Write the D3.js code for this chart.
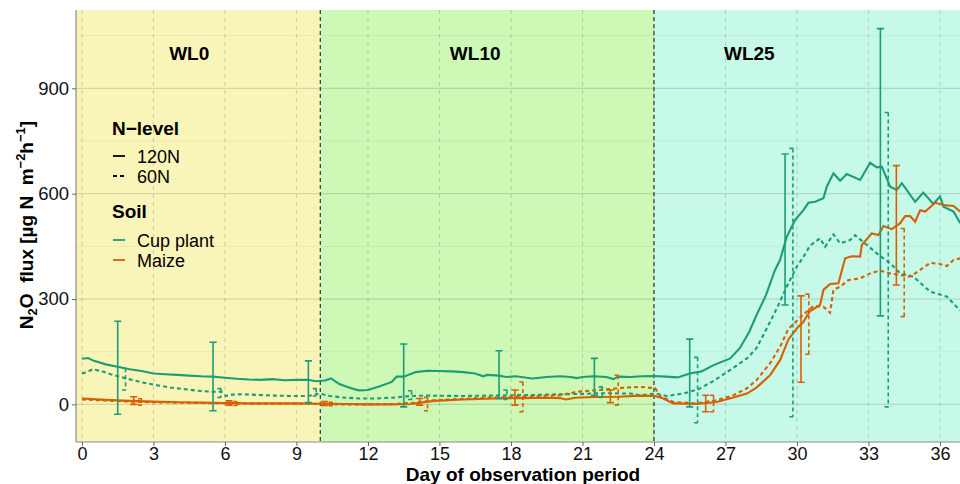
<!DOCTYPE html>
<html>
<head>
<meta charset="utf-8">
<script src="https://cdn.jsdelivr.net/npm/d3@7"></script>
<style>
  body { margin: 0; background: #fff; }
  text { font-family: "Liberation Sans", Arial, sans-serif; white-space: pre; }
</style>
</head>
<body>
<div id="chart"></div>
<script>
// Data: [day, flux]
const cup120 = [
  [0, 130], [0.25, 132], [0.5, 124], [1, 114], [1.5, 107], [2, 100], [2.5, 95], [3, 88],
  [3.5, 86], [4, 84], [4.5, 82], [5, 80], [5.5, 79], [6, 76], [6.5, 73], [7, 71], [7.5, 70],
  [8, 72], [8.5, 69], [9, 70], [9.5, 70], [9.8, 66], [10.2, 68], [10.45, 74], [10.8, 58],
  [11.2, 48], [11.6, 40], [12, 41], [12.5, 52], [13, 64], [13.2, 79], [13.5, 79], [14, 92],
  [14.5, 96], [15, 95], [15.5, 94], [16, 92], [16.5, 88], [16.84, 80], [17, 84], [17.5, 82],
  [17.8, 78], [18.2, 80], [18.9, 74], [19.5, 78], [20.06, 80], [20.5, 78], [20.76, 75],
  [21, 78], [21.46, 80], [22, 78], [22.3, 72], [22.5, 79], [23, 78], [23.5, 80], [24, 81],
  [24.5, 79], [25, 77], [25.5, 88], [26, 94], [26.5, 112], [27.2, 131], [27.6, 160],
  [28, 207], [28.3, 254], [28.7, 311], [29.08, 383], [29.29, 411], [29.57, 477], [29.92, 525],
  [30.27, 553], [30.48, 574], [30.76, 577], [31.11, 587], [31.25, 620], [31.53, 658],
  [31.81, 637], [32.09, 656], [32.65, 639], [33.07, 688], [33.35, 675], [33.56, 677],
  [33.91, 620], [34.19, 611], [34.4, 630], [34.96, 577], [35.3, 603], [35.72, 571], [36, 592],
  [36.15, 563], [36.57, 549], [36.85, 516]
];
const cup60 = [
  [0, 88], [0.2, 92], [0.45, 100], [0.8, 95], [1.2, 86], [1.85, 74], [2.5, 63], [3.1, 55],
  [3.7, 48], [4.36, 43], [5, 38], [5.6, 36], [5.85, 36], [6.04, 24], [6.3, 28], [6.7, 29],
  [7.4, 27], [8.1, 25], [8.8, 24], [9.5, 24], [9.95, 31], [10.4, 24], [10.9, 20], [11.6, 17],
  [12.3, 17], [13, 19], [13.8, 24], [14.5, 25], [15.9, 24], [17, 25], [17.8, 26], [19, 27],
  [20.06, 29], [21, 30], [21.7, 32], [23, 31], [23.42, 26], [24.05, 31], [24.53, 24],
  [25.23, 31], [25.86, 43], [26.5, 67], [27.2, 98], [27.9, 131], [28.3, 160], [28.7, 212],
  [29.15, 273], [29.57, 335], [29.99, 392], [30.27, 420], [30.55, 452], [30.97, 473],
  [31.18, 449], [31.53, 484], [31.81, 459], [32.23, 468], [32.44, 482], [32.93, 454],
  [33.35, 430], [33.91, 402], [34.33, 373], [34.88, 364], [35.59, 321], [36.29, 307],
  [36.85, 267]
];
const maize120 = [
  [0, 17], [1, 13], [2, 10], [3, 8], [4, 6], [5, 5], [6, 4], [7, 3], [8, 3], [9, 3], [10, 2],
  [11, 1], [12, 0], [13, 0], [13.8, 1], [14.77, 10], [16, 14], [17.26, 17], [18.5, 18],
  [19.5, 19], [20.06, 18], [20.3, 14], [20.7, 19], [21.5, 21], [22.5, 22], [23.42, 25],
  [24.05, 24], [24.39, 17], [24.81, 3], [25.79, 1], [26.63, 7], [27.33, 20], [27.9, 31],
  [28.3, 48], [28.87, 83], [29.29, 126], [29.64, 185], [29.99, 216], [30.27, 235],
  [30.55, 266], [30.97, 283], [31.11, 326], [31.39, 343], [31.74, 345], [32.02, 416],
  [32.3, 422], [32.65, 421], [32.72, 454], [33.14, 487], [33.42, 482], [33.63, 508],
  [33.98, 499], [34.33, 516], [34.54, 536], [34.75, 536], [34.96, 520], [35.17, 553],
  [35.38, 549], [35.8, 574], [36.15, 568], [36.57, 565], [36.85, 549]
];
const maize60 = [
  [0, 14], [1, 11], [2, 8], [3, 6], [4, 5], [5, 4], [6, 3], [7, 2], [8, 2], [9, 2], [10, 1],
  [11, 0], [12, 0], [13, 1], [14, 5], [14.77, 12], [16, 16], [17.26, 20], [18.5, 22],
  [20.06, 26], [20.76, 36], [21.5, 40], [22.86, 48], [23.42, 50], [24.05, 46], [24.26, 24],
  [24.81, 7], [25.79, 3], [26.63, 12], [27.33, 26], [27.9, 46], [28.3, 69], [28.87, 117],
  [29.29, 164], [29.64, 215], [29.99, 238], [30.27, 256], [30.69, 280], [31.11, 278],
  [31.39, 261], [31.53, 326], [31.81, 335], [32.16, 354], [32.65, 359], [33.07, 373],
  [33.49, 381], [33.91, 373], [34.33, 368], [34.75, 364], [35.17, 383], [35.59, 403],
  [36, 400], [36.29, 394], [36.57, 411], [36.85, 416]
];

// Error bars: [day, lower, upper]
const cup120Err = [
  [1.5, -28, 237], [5.5, -18, 177], [9.5, 5, 124], [13.5, -7, 172], [17.5, 17, 153],
  [21.5, 26, 131], [25.5, -7, 186], [29.5, 283, 713], [33.5, 252, 1070]
];
const cup60Err = [
  [1.83, 41, 103], [5.83, 20, 45], [9.83, 24, 45], [13.83, 14, 39], [17.83, 14, 41],
  [21.83, 20, 50], [25.83, -52, 134], [29.83, -35, 729], [33.83, -7, 831]
];
const maize120Err = [
  [2.17, 0, 22], [6.17, -2, 10], [10.17, -3, 8], [14.17, -2, 17], [18.17, -2, 41],
  [22.17, 5, 41], [26.17, -21, 26], [30.17, 63, 309], [34.17, 340, 680]
];
const maize60Err = [
  [2.5, -2, 16], [6.5, -3, 8], [10.5, -4, 6], [14.5, -18, 20], [18.5, -21, 64],
  [22.5, -2, 83], [26.5, -21, 26], [30.5, 143, 314], [34.5, 250, 501]
];

// Water level phases
const phaseNames = ['WL0', 'WL10', 'WL25'];
const phaseBreaks = [-0.25, 10, 24, 37.26];
const phaseLabelDays = [4.5, 16.5, 28];

// Ticks
const xTicks = [0, 3, 6, 9, 12, 15, 18, 21, 24, 27, 30, 33, 36];
const yTicks = [0, 300, 600, 900];
const yMinor = [150, 450, 750, 1050];

// Colours
const phaseColors = ['#f9f5b9', '#cdf8b6', '#c7f9e8'];
const soilColors = { cup: '#1b9e77', maize: '#d95f02' };

const series = [
  { data: cup120, err: cup120Err, soil: 'cup', dashed: false },
  { data: cup60, err: cup60Err, soil: 'cup', dashed: true },
  { data: maize120, err: maize120Err, soil: 'maize', dashed: false },
  { data: maize60, err: maize60Err, soil: 'maize', dashed: true }
];

// Setup
const width = 960, height = 484;
const panel = { left: 76, right: 970, top: 10, bottom: 442 };

const svg = d3.select('#chart')
  .append('svg')
  .attr('width', width)
  .attr('height', height);

const xScale = d3.scaleLinear().domain([-0.25, 37.26]).range([panel.left, panel.right]);
const yScale = d3.scaleLinear().domain([-107, 1123]).range([panel.bottom, panel.top]);

svg.append('clipPath').attr('id', 'clip')
  .append('rect')
  .attr('x', panel.left).attr('y', panel.top)
  .attr('width', panel.right - panel.left)
  .attr('height', panel.bottom - panel.top);

const plot = svg.append('g').attr('clip-path', 'url(#clip)');

// Phase backgrounds
plot.selectAll('.phase')
  .data(phaseNames)
  .enter()
  .append('rect')
  .attr('class', 'phase')
  .attr('x', (d, i) => xScale(phaseBreaks[i]))
  .attr('width', (d, i) => xScale(phaseBreaks[i + 1]) - xScale(phaseBreaks[i]))
  .attr('y', panel.top)
  .attr('height', panel.bottom - panel.top)
  .attr('fill', (d, i) => phaseColors[i]);

// Grid lines
plot.selectAll('.minor')
  .data(yMinor)
  .enter()
  .append('line')
  .attr('x1', panel.left).attr('x2', panel.right)
  .attr('y1', d => yScale(d)).attr('y2', d => yScale(d))
  .attr('stroke', 'rgba(0,0,0,0.05)')
  .attr('stroke-width', 1);

plot.selectAll('.major')
  .data(yTicks)
  .enter()
  .append('line')
  .attr('x1', panel.left).attr('x2', panel.right)
  .attr('y1', d => yScale(d)).attr('y2', d => yScale(d))
  .attr('stroke', 'rgba(0,0,0,0.13)')
  .attr('stroke-width', 1.3);

plot.selectAll('.vgrid')
  .data(xTicks)
  .enter()
  .append('line')
  .attr('x1', d => xScale(d)).attr('x2', d => xScale(d))
  .attr('y1', panel.top).attr('y2', panel.bottom)
  .attr('stroke', 'rgba(0,0,0,0.17)')
  .attr('stroke-width', 1)
  .attr('stroke-dasharray', '4,4');

// Phase boundaries
plot.selectAll('.boundary')
  .data(phaseBreaks.slice(1, 3))
  .enter()
  .append('line')
  .attr('x1', d => xScale(d)).attr('x2', d => xScale(d))
  .attr('y1', panel.top).attr('y2', panel.bottom)
  .attr('stroke', '#333')
  .attr('stroke-width', 1.2)
  .attr('stroke-dasharray', '4,3');

// Phase labels
svg.selectAll('.phase-label')
  .data(phaseNames)
  .enter()
  .append('text')
  .attr('x', (d, i) => xScale(phaseLabelDays[i]))
  .attr('y', 60)
  .attr('text-anchor', 'middle')
  .attr('font-size', 19)
  .attr('font-weight', 'bold')
  .text(d => d);

// Lines
const line = d3.line()
  .x(d => xScale(d[0]))
  .y(d => yScale(d[1]));

plot.selectAll('.line')
  .data(series)
  .enter()
  .append('path')
  .attr('fill', 'none')
  .attr('stroke', d => soilColors[d.soil])
  .attr('stroke-width', 2.1)
  .attr('stroke-dasharray', d => d.dashed ? '4,3' : null)
  .attr('d', d => line(d.data));

// Error bars
const capHalf = 0.15;
series.forEach(s => {
  plot.selectAll(null)
    .data(s.err)
    .enter()
    .append('path')
    .attr('fill', 'none')
    .attr('stroke', soilColors[s.soil])
    .attr('stroke-width', 1.6)
    .attr('stroke-dasharray', s.dashed ? '4,3' : null)
    .attr('d', d => {
      const x0 = xScale(d[0] - capHalf), x1 = xScale(d[0] + capHalf), xm = xScale(d[0]);
      const yl = yScale(d[1]), yh = yScale(d[2]);
      return `M${x0},${yh}H${x1}M${xm},${yh}V${yl}M${x0},${yl}H${x1}`;
    });
});

// Axes lines
svg.append('line')
  .attr('x1', panel.left).attr('x2', panel.left)
  .attr('y1', panel.top).attr('y2', panel.bottom)
  .attr('stroke', '#8a8a8a').attr('stroke-width', 1.2);
svg.append('line')
  .attr('x1', panel.left).attr('x2', width)
  .attr('y1', panel.bottom).attr('y2', panel.bottom)
  .attr('stroke', '#8a8a8a').attr('stroke-width', 1.2);

// Y axis
const yAxis = d3.axisLeft(yScale).tickValues(yTicks).tickSize(4).tickPadding(3);
const gy = svg.append('g')
  .attr('transform', `translate(${panel.left}, 0)`)
  .call(yAxis);
gy.select('.domain').remove();
gy.selectAll('line').attr('stroke', '#666');
gy.selectAll('text').attr('font-size', 18.5).attr('fill', '#111')
  .style('font-family', '"Liberation Sans", Arial, sans-serif');

// X axis
const xAxis = d3.axisBottom(xScale).tickValues(xTicks).tickSize(4).tickPadding(1);
const gx = svg.append('g')
  .attr('transform', `translate(0, ${panel.bottom})`)
  .call(xAxis);
gx.select('.domain').remove();
gx.selectAll('line').attr('stroke', '#666');
gx.selectAll('text').attr('font-size', 18).attr('fill', '#111')
  .style('font-family', '"Liberation Sans", Arial, sans-serif');

// Axis titles
svg.append('text')
  .attr('x', 523)
  .attr('y', 480.5)
  .attr('text-anchor', 'middle')
  .attr('font-size', 19)
  .attr('font-weight', 'bold')
  .text('Day of observation period');

const yTitle = svg.append('text')
  .attr('transform', 'translate(33, 225) rotate(-90)')
  .attr('text-anchor', 'middle')
  .attr('font-size', 19)
  .attr('font-weight', 'bold');
yTitle.append('tspan').text('N');
yTitle.append('tspan').attr('font-size', 13).attr('dy', 4).text('2');
yTitle.append('tspan').attr('dy', -4).text('O\u00A0\u00A0flux [µg N\u00A0\u00A0m');
yTitle.append('tspan').attr('font-size', 13).attr('dy', -8).text('−2');
yTitle.append('tspan').attr('dy', 8).text('h');
yTitle.append('tspan').attr('font-size', 13).attr('dy', -8).text('−1');
yTitle.append('tspan').attr('dy', 8).text(']');

// Legend
const legend = svg.append('g');
legend.append('text').attr('x', 112).attr('y', 135)
  .attr('font-size', 19).attr('font-weight', 'bold').text('N−level');
legend.append('text').attr('x', 112).attr('y', 218)
  .attr('font-size', 19).attr('font-weight', 'bold').text('Soil');

const nKeys = [
  { label: '120N', dashed: false, y: 156 },
  { label: '60N', dashed: true, y: 176 }
];
const soilKeys = [
  { label: 'Cup plant', soil: 'cup', y: 240 },
  { label: 'Maize', soil: 'maize', y: 260 }
];

nKeys.forEach(k => {
  legend.append('line')
    .attr('x1', 113).attr('x2', 125).attr('y1', k.y).attr('y2', k.y)
    .attr('stroke', '#000').attr('stroke-width', 1.8)
    .attr('stroke-dasharray', k.dashed ? '4,3' : null);
  legend.append('text').attr('x', 137).attr('y', k.y + 7)
    .attr('font-size', 18).text(k.label);
});
soilKeys.forEach(k => {
  legend.append('line')
    .attr('x1', 113).attr('x2', 125).attr('y1', k.y).attr('y2', k.y)
    .attr('stroke', soilColors[k.soil]).attr('stroke-width', 1.8);
  legend.append('text').attr('x', 137).attr('y', k.y + 7)
    .attr('font-size', 18).text(k.label);
});
</script>
</body>
</html>
